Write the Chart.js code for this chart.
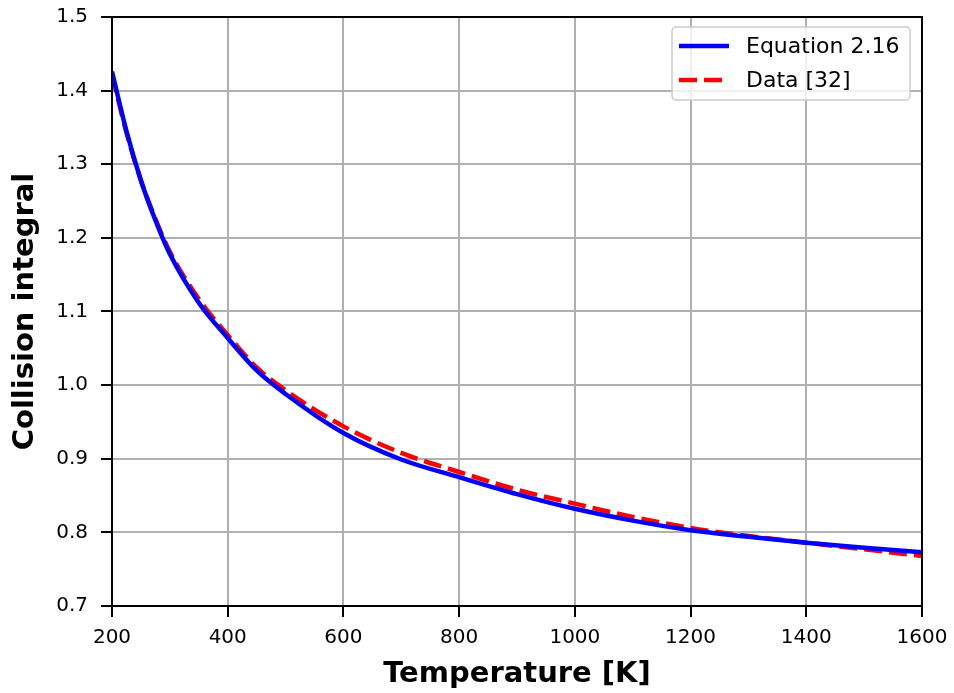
<!DOCTYPE html>
<html>
<head>
<meta charset="utf-8">
<script src="https://cdn.jsdelivr.net/npm/chart.js@4/dist/chart.umd.min.js"></script>
<style>
  html, body { margin: 0; padding: 0; background: #fff; }
  #wrap { width: 954px; height: 693px; }
</style>
</head>
<body>
<div id="wrap"><canvas id="collision"></canvas></div>
<script>
// temperatures [K]
const temps = [200, 225, 250, 275, 300, 350, 400, 450, 500, 600, 700, 800, 900, 1000, 1100, 1200, 1300, 1400, 1500, 1600];
// Equation 2.16 (blue solid)
const eqValues = [1.426, 1.345, 1.278, 1.224, 1.178, 1.112, 1.064, 1.020, 0.988, 0.935, 0.899, 0.875, 0.852, 0.832, 0.816, 0.803, 0.794, 0.786, 0.779, 0.773];
// Data [32] (red dashed)
const dataValues = [1.422, 1.343, 1.278, 1.226, 1.181, 1.117, 1.068, 1.024, 0.993, 0.944, 0.908, 0.882, 0.858, 0.839, 0.821, 0.806, 0.795, 0.786, 0.777, 0.768];

const xTicks = [200, 400, 600, 800, 1000, 1200, 1400, 1600];
const yTicks = [0.7, 0.8, 0.9, 1.0, 1.1, 1.2, 1.3, 1.4, 1.5];

const seriesLabels = ['Equation 2.16', 'Data [32]'];

function toPoints(xs, ys) {
  return xs.map((x, i) => ({ x: x, y: ys[i] }));
}

const FONT = "'DejaVu Sans', sans-serif";

// frame around the plot + legend drawn inside the axes, matplotlib style
const framePlugin = {
  id: 'frame',
  afterDraw(chart) {
    const c = chart.ctx;
    const a = chart.chartArea;
    c.save();
    c.strokeStyle = '#000';
    c.lineWidth = 2;
    c.strokeRect(a.left, a.top, a.right - a.left, a.bottom - a.top);

    // legend box
    const bx = 672, by = 27, bw = 238, bh = 73;
    c.fillStyle = 'rgba(255,255,255,0.8)';
    c.strokeStyle = '#cccccc';
    c.lineWidth = 1.5;
    c.beginPath();
    c.roundRect(bx, by, bw, bh, 4);
    c.fill();
    c.stroke();

    c.font = '22px ' + FONT;
    c.textBaseline = 'middle';
    chart.data.datasets.forEach((ds, i) => {
      const ly = 46 + i * 34;
      c.strokeStyle = ds.borderColor;
      c.lineWidth = ds.borderWidth;
      c.setLineDash(ds.borderDash || []);
      c.beginPath();
      c.moveTo(679, ly);
      c.lineTo(729, ly);
      c.stroke();
      c.setLineDash([]);
      c.fillStyle = '#000';
      c.fillText(ds.label, 746, ly + 1);
    });
    c.restore();
  }
};

const chart = new Chart(document.getElementById('collision').getContext('2d'), {
  type: 'line',
  data: {
    datasets: [{
      label: seriesLabels[0],
      data: toPoints(temps, eqValues),
      borderColor: '#0000ff',
      borderWidth: 4.5,
      pointRadius: 0,
      cubicInterpolationMode: 'monotone',
      fill: false
    }, {
      label: seriesLabels[1],
      data: toPoints(temps, dataValues),
      borderColor: '#ff0000',
      borderWidth: 4.5,
      borderDash: [18, 7],
      pointRadius: 0,
      cubicInterpolationMode: 'monotone',
      fill: false
    }]
  },
  options: {
    responsive: true,
    maintainAspectRatio: false,
    animation: false,
    layout: { padding: { left: 0, right: 32, top: 17, bottom: 0 } },
    plugins: {
      legend: { display: false },
      tooltip: { enabled: false }
    },
    scales: {
      x: {
        type: 'linear',
        min: 200,
        max: 1600,
        afterBuildTicks(scale) { scale.ticks = xTicks.map(v => ({ value: v })); },
        afterFit(scale) {
          scale.height = 87;
          scale.paddingLeft = 0;
          scale.paddingRight = 0;
        },
        grid: { color: '#b0b0b0', lineWidth: 2, tickColor: '#000', tickLength: 11, tickWidth: 2 },
        border: { color: '#000', width: 2 },
        ticks: { color: '#000', font: { family: FONT, size: 20 }, padding: 9, maxRotation: 0, callback: v => String(v) },
        title: {
          display: true,
          text: 'Temperature [K]',
          color: '#000',
          font: { family: FONT, size: 29, weight: 'bold' },
          padding: { top: 4, bottom: 1 }
        }
      },
      y: {
        min: 0.7,
        max: 1.5,
        afterBuildTicks(scale) { scale.ticks = yTicks.map(v => ({ value: v })); },
        afterFit(scale) {
          scale.width = 112;
          scale.paddingTop = 0;
          scale.paddingBottom = 0;
        },
        grid: { color: '#b0b0b0', lineWidth: 2, tickColor: '#000', tickLength: 11, tickWidth: 2 },
        border: { color: '#000', width: 2 },
        ticks: {
          color: '#000',
          font: { family: FONT, size: 20 },
          padding: 13,
          callback: v => v.toFixed(1)
        },
        title: {
          display: true,
          text: 'Collision integral',
          color: '#000',
          font: { family: FONT, size: 29, weight: 'bold' },
          padding: { top: 8, bottom: 4 }
        }
      }
    }
  },
  plugins: [framePlugin]
});
</script>
</body>
</html>
